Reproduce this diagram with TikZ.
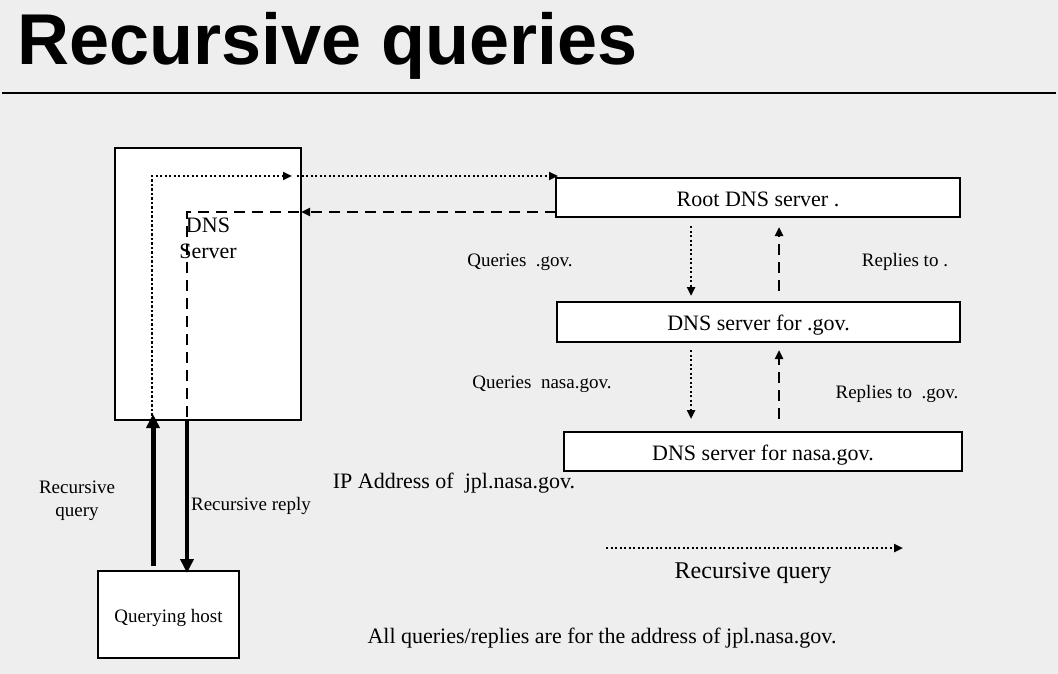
\documentclass[tikz,border=0pt]{standalone}
\usepackage{fontspec}
\setmainfont{Liberation Serif}
\newfontfamily\titlefont{Liberation Sans}
\usetikzlibrary{arrows.meta,calc}
\definecolor{bg}{HTML}{EEEEEE}
\tikzset{
  box/.style={draw=black,line width=1.6pt,fill=white,anchor=north west,inner sep=0pt,outer sep=0pt},
  lbl/.style={inner sep=0pt,font=\fontsize{19}{23}\selectfont},
  big/.style={inner sep=0pt,font=\fontsize{22}{26}\selectfont},
  boxtext/.style={text height=17pt,text depth=0pt},
  dotline/.style={line width=2.4pt,dash pattern=on 2.4pt off 2.1pt,-{Triangle[length=9pt,width=8pt]}},
  dashline/.style={line width=2.8pt,dash pattern=on 11pt off 7pt},
  dasharrow/.style={dashline,-{Triangle[length=9pt,width=8pt]}},
  thick1/.style={line width=5pt,-{Triangle[length=14pt,width=13pt]}},
  thick2/.style={line width=4pt,-{Triangle[length=14pt,width=13pt]}},
}
\begin{document}
\begin{tikzpicture}[x=1pt,y=-1pt]
\useasboundingbox (0,0) rectangle (1058,674);
\fill[bg] (0,0) rectangle (1058,674);
% title
\node[anchor=base west,inner sep=0pt,font=\titlefont\bfseries\fontsize{72}{80}\selectfont] (title) at (17,65) {Recursive queries};
\draw[line width=2pt] (2,93) -- (1056,93);
% boxes
\node[box,minimum width=186pt,minimum height=272pt] (dns) at (115,148) {};
\node[big,align=center] (dnslbl) at (208,238) {DNS\\Server};
\node[box,minimum width=404pt,minimum height=39pt,big,boxtext] (root) at (556,178) {Root DNS server .};
\node[box,minimum width=403pt,minimum height=40pt,big,boxtext] (gov) at (557,302) {DNS server for .gov.};
\node[box,minimum width=398pt,minimum height=39pt,big,boxtext] (nasa) at (564,432) {DNS server for nasa.gov.};
\node[box,minimum width=141pt,minimum height=87pt,lbl,text height=15pt,text depth=0pt] (host) at (98,571) {Querying host};
% coordinates
\coordinate (qa) at ($(dns.south west)+(37,0)$);
\coordinate (qb) at ($(dns.north west)+(37,28)$);
\coordinate (qc) at ($(dns.north east)+(-9,28)$);
\coordinate (qd) at ($(dns.north east)+(-4,28)$);
\coordinate (qe) at (qd -| root.west);
\coordinate (ra) at ($(root.south west)+(0,-5)$);
\coordinate (rb) at (ra -| dns.east);
\coordinate (rc) at ($(rb)+(-2,0)$);
\coordinate (rd) at ($(dns.north west)+(72,64)$);
\coordinate (re) at ($(dns.south west)+(72,0)$);
\coordinate (ha) at ($(host.north west)+(55,-5)$);
\coordinate (hb) at ($(dns.south west)+(38,-6)$);
\coordinate (hc) at (host.north -| re);
% recursive query path (dotted)
\draw[dotline] (qa) -- (qb) -- (qc);
\draw[dotline] (qd) -- ($(qe)+(2,0)$);
% reply path (dashed)
\draw[dasharrow] (ra) -- (rb);
\draw[dashline] (rc) -- (rd |- rc) -- (re);
% thick arrows
\draw[thick1] (ha) -- (hb);
\draw[thick2] (re) -- ($(hc)+(0,2)$);
% between servers
\coordinate (d1) at ($(root.south west)+(135,9)$);
\coordinate (d2) at ($(gov.north)+(0,-6)$);
\draw[dotline] (d1) -- (d1 |- d2);
\coordinate (u1) at ($(root.south west)+(223,10)$);
\coordinate (u2) at ($(gov.north)+(0,-11)$);
\draw[dasharrow] (u1 |- u2) -- (u1);
\coordinate (d3) at ($(gov.south)+(0,8)$);
\coordinate (d4) at ($(nasa.north)+(0,-13)$);
\draw[dotline] (d1 |- d3) -- (d1 |- d4);
\draw[dasharrow] (u1 |- d4) -- (u1 |- d3);
% labels
\node[lbl] (l1) at (520,262) {Queries\ \ .gov.};
\node[lbl] (l2) at (905,262) {Replies to .};
\node[lbl] (l3) at (542,384) {Queries\ \ nasa.gov.};
\node[lbl] (l4) at (897,394) {Replies to\ \ .gov.};
\node[big] (l5) at (454,483) {IP Address of\ \ jpl.nasa.gov.};
\node[lbl,align=center] (l6) at (77,501) {Recursive\\query};
\node[lbl] (l7) at (251,506) {Recursive reply};
% legend
\coordinate (lga) at (606,548);
\coordinate (lgb) at (903,548);
\draw[dotline] (lga) -- (lgb);
\node[inner sep=0pt,font=\fontsize{24}{28}\selectfont] (lg) at (753,573) {Recursive query};
\node[big] (note) at (602,638) {All queries/replies are for the address of jpl.nasa.gov.};
\end{tikzpicture}
\end{document}
